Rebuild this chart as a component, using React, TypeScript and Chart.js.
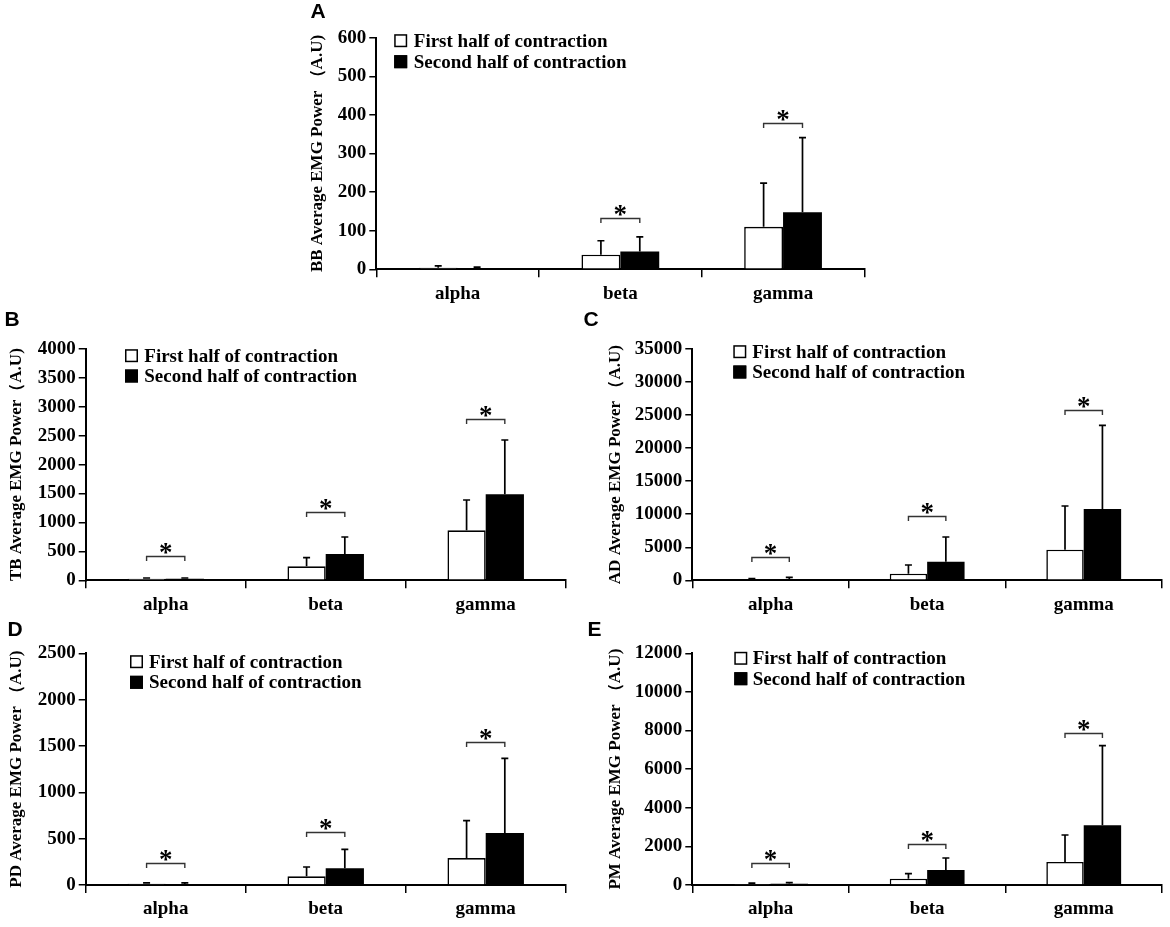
import React, { useEffect, useRef } from 'react';
import { Chart, registerables } from 'chart.js';

Chart.register(...registerables);
Chart.defaults.font.family = '"Liberation Serif", "Times New Roman", serif';
Chart.defaults.color = '#000';

const bands = ['alpha', 'beta', 'gamma'];
const seriesNames = ['First half of contraction', 'Second half of contraction'];

// BB (biceps)
const bbFirst = [4, 38, 110];
const bbFirstSd = [5, 36, 113];
const bbSecond = [2.5, 46, 148];
const bbSecondSd = [3, 38, 193];
const bbStars = [null, 134, 378];

// TB (triceps)
const tbFirst = [28, 242, 865];
const tbFirstSd = [12, 149, 524];
const tbSecond = [25, 455, 1487];
const tbSecondSd = [15, 294, 939];
const tbStars = [425, 1186, 2784];

// AD (anterior deltoid)
const adFirst = [150, 1000, 4630];
const adFirstSd = [100, 1315, 6610];
const adSecond = [200, 2815, 10790];
const adSecondSd = [250, 3735, 12660];
const adStars = [3570, 9770, 25770];

// PD (posterior deltoid)
const pdFirst = [14, 94, 291];
const pdFirstSd = [9, 100, 403];
const pdSecond = [12, 180, 561];
const pdSecondSd = [10, 205, 806];
const pdStars = [234, 575, 1543];

// PM (pectoralis major)
const pmFirst = [55, 328, 1191];
const pmFirstSd = [40, 257, 1399];
const pmSecond = [65, 777, 3092];
const pmSecondSd = [55, 622, 4124];
const pmStars = [1155, 2140, 7890];

const yMaxes = [600, 4000, 35000, 2500, 12000];
const ySteps = [100, 500, 5000, 500, 2000];

type PanelDef = {
  key: string;
  title: string;
  first: number[];
  firstSd: number[];
  second: number[];
  secondSd: number[];
  stars: (number | null)[];
  max: number;
  step: number;
  box: number[]; // x, y, w, h on the page
  area: number[]; // plot left, top, right, bottom on the page
  titlePad: number;
  letter: number[];
  legend: number[]; // square dx, text dx, row1 dy, row2 dy
};

const panels: PanelDef[] = [
  {
    key: 'A', title: 'BB Average EMG Power （A.U)',
    first: bbFirst, firstSd: bbFirstSd, second: bbSecond, secondSd: bbSecondSd, stars: bbStars,
    max: yMaxes[0], step: ySteps[0],
    box: [285, 0, 595, 312], area: [376.3, 37.7, 864.4, 269.3], titlePad: 22.8,
    letter: [318, 12], legend: [17.9, 37.5, 3, 24],
  },
  {
    key: 'B', title: 'TB Average EMG Power（A.U)',
    first: tbFirst, firstSd: tbFirstSd, second: tbSecond, secondSd: tbSecondSd, stars: tbStars,
    max: yMaxes[1], step: ySteps[1],
    box: [0, 318, 580, 302], area: [85.7, 349, 565.7, 580.3], titlePad: 6.8,
    letter: [12, 320], legend: [39.3, 58.6, 6.7, 27],
  },
  {
    key: 'C', title: 'AD Average EMG Power （A.U)',
    first: adFirst, firstSd: adFirstSd, second: adSecond, secondSd: adSecondSd, stars: adStars,
    max: yMaxes[2], step: ySteps[2],
    box: [600, 318, 570, 302], area: [692.3, 349, 1162, 580.3], titlePad: 5.8,
    letter: [591, 320], legend: [41, 60, 2.7, 23],
  },
  {
    key: 'D', title: 'PD Average EMG Power （A.U)',
    first: pdFirst, firstSd: pdFirstSd, second: pdSecond, secondSd: pdSecondSd, stars: pdStars,
    max: yMaxes[3], step: ySteps[3],
    box: [0, 622, 580, 305], area: [85.7, 653.3, 565.7, 885], titlePad: 6.8,
    letter: [15, 630], legend: [44.3, 63.3, 8.4, 29],
  },
  {
    key: 'E', title: 'PM Average EMG Power （A.U)',
    first: pmFirst, firstSd: pmFirstSd, second: pmSecond, secondSd: pmSecondSd, stars: pmStars,
    max: yMaxes[4], step: ySteps[4],
    box: [600, 622, 570, 305], area: [692.3, 653.3, 1162, 885], titlePad: 5.8,
    letter: [595, 630], legend: [42, 60.4, 5, 25.4],
  },
];

function Panel({ p }: { p: PanelDef }) {
  const ref = useRef<HTMLCanvasElement>(null);

  useEffect(() => {
    const [bx, by, bw, bh] = p.box;
    const [al, at, ar, ab] = p.area;
    const yWidth = al - bx;
    const xHeight = by + bh - ab;

    const overlay = {
      id: 'overlay' + p.key,
      afterDatasetsDraw(chart: any) {
        const { ctx } = chart;
        const ys = chart.scales.y;
        ctx.save();
        // error bars (upper only)
        ctx.strokeStyle = '#000';
        ctx.lineWidth = 1.7;
        [p.firstSd, p.secondSd].forEach((sds, di) => {
          const meta = chart.getDatasetMeta(di);
          const vals = chart.data.datasets[di].data as number[];
          sds.forEach((sd, i) => {
            const bar = meta.data[i];
            const y0 = ys.getPixelForValue(vals[i]);
            const y1 = ys.getPixelForValue(vals[i] + sd);
            ctx.beginPath();
            ctx.moveTo(bar.x, y0);
            ctx.lineTo(bar.x, y1);
            ctx.moveTo(bar.x - 3.5, y1);
            ctx.lineTo(bar.x + 3.5, y1);
            ctx.stroke();
          });
        });
        // significance brackets
        const m0 = chart.getDatasetMeta(0);
        const m1 = chart.getDatasetMeta(1);
        p.stars.forEach((v, i) => {
          if (v == null) return;
          const x0 = m0.data[i].x;
          const x1 = m1.data[i].x;
          const y = Math.round(ys.getPixelForValue(v)) + 0.5;
          ctx.strokeStyle = '#333';
          ctx.lineWidth = 1.4;
          ctx.beginPath();
          ctx.moveTo(x0, y + 4.5);
          ctx.lineTo(x0, y);
          ctx.lineTo(x1, y);
          ctx.lineTo(x1, y + 4.5);
          ctx.stroke();
          ctx.fillStyle = '#000';
          ctx.font = 'bold 27px "Liberation Serif", serif';
          ctx.textAlign = 'center';
          ctx.textBaseline = 'alphabetic';
          ctx.fillText('*', (x0 + x1) / 2, y + 4);
        });
        ctx.restore();
      },
      afterDraw(chart: any) {
        const { ctx, chartArea } = chart;
        const [sqX, txX, r1, r2] = p.legend;
        ctx.save();
        ctx.font = 'bold 19px "Liberation Serif", serif';
        ctx.textBaseline = 'middle';
        ctx.textAlign = 'left';
        [r1, r2].forEach((dy, k) => {
          const cy = chartArea.top + dy;
          const sx = chartArea.left + sqX;
          ctx.fillStyle = k === 0 ? '#fff' : '#000';
          ctx.fillRect(sx, cy - 6.5, 13, 13);
          ctx.strokeStyle = '#000';
          ctx.lineWidth = 1.5;
          ctx.strokeRect(sx + 0.75, cy - 5.75, 11.5, 11.5);
          ctx.fillStyle = '#000';
          ctx.fillText(seriesNames[k], chartArea.left + txX, cy + 1);
        });
        ctx.restore();
      },
    };

    const chart = new Chart(ref.current!, {
      type: 'bar',
      data: {
        labels: bands,
        datasets: [
          {
            label: seriesNames[0],
            data: p.first,
            backgroundColor: '#fff',
            borderColor: '#000',
            borderWidth: 1.6,
            categoryPercentage: 0.478,
            barPercentage: 1,
          },
          {
            label: seriesNames[1],
            data: p.second,
            backgroundColor: '#000',
            borderColor: '#000',
            borderWidth: 0,
            categoryPercentage: 0.478,
            barPercentage: 1,
          },
        ],
      },
      options: {
        responsive: false,
        animation: false,
        layout: { padding: { top: at - by, right: bx + bw - ar, left: 0, bottom: 0 } },
        plugins: { legend: { display: false }, tooltip: { enabled: false } },
        scales: {
          x: {
            offset: true,
            grid: { offset: true, drawOnChartArea: false, drawTicks: true, tickLength: 8, color: '#000', lineWidth: 1.5 },
            border: { color: '#000', width: 2 },
            ticks: { color: '#000', font: { size: 19, weight: 'bold' }, padding: 5 },
            afterFit: (s: any) => { s.height = xHeight; },
          },
          y: {
            min: 0,
            max: p.max,
            grid: { drawOnChartArea: false, drawTicks: true, tickLength: 7, color: '#000', lineWidth: 1.5 },
            border: { color: '#000', width: 2 },
            ticks: {
              stepSize: p.step,
              color: '#000',
              font: { size: 19, weight: 'bold' },
              padding: 3,
              callback: (v: any) => String(v),
            },
            title: {
              display: true,
              text: p.title,
              color: '#000',
              font: { size: 17, weight: 'bold' },
              padding: { top: p.titlePad, bottom: 0 },
            },
            afterFit: (s: any) => { s.width = yWidth; },
          },
        },
      },
      plugins: [overlay],
    } as any);
    return () => chart.destroy();
  }, [p]);

  return (
    <canvas
      ref={ref}
      width={p.box[2]}
      height={p.box[3]}
      style={{ position: 'absolute', left: p.box[0], top: p.box[1] }}
    />
  );
}

export default function App() {
  return (
    <div style={{ position: 'absolute', left: 0, top: 0, width: 1170, height: 927, background: '#fff', overflow: 'hidden' }}>
      {panels.map((p) => (
        <Panel key={p.key} p={p} />
      ))}
      {panels.map((p) => (
        <div
          key={'l' + p.key}
          style={{
            position: 'absolute',
            left: p.letter[0] - 7.5,
            top: p.letter[1] - 13.5,
            font: 'bold 21px "Liberation Sans", Arial, sans-serif',
            lineHeight: '24px',
            color: '#000',
          }}
        >
          {p.key}
        </div>
      ))}
    </div>
  );
}
